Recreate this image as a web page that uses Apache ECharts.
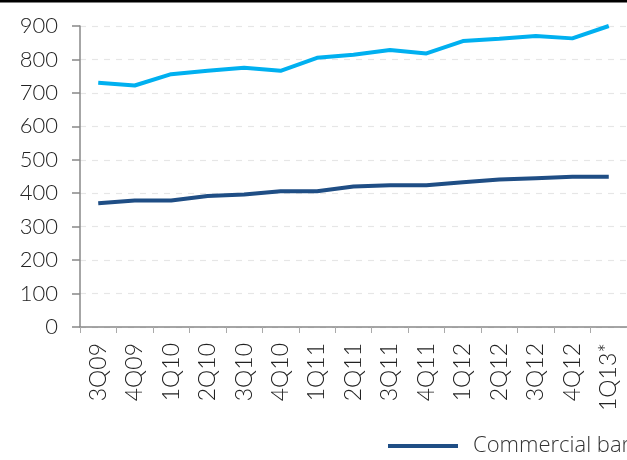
<!DOCTYPE html>
<html><head><meta charset="utf-8">
<script src="https://cdn.jsdelivr.net/npm/echarts@6/dist/echarts.min.js"></script>
<style>html,body{margin:0;padding:0;background:#fff}#c{width:627px;height:460px}</style>
</head><body><div id="c"></div>
<script>
var categories = ['3Q09','4Q09','1Q10','2Q10','3Q10','4Q10','1Q11','2Q11','3Q11','4Q11','1Q12','2Q12','3Q12','4Q12','1Q13*'];
var commercialBanks = [370,378,378,392,396,406,406,420,424,424,433,441,445,449,449];
var totalBanks = [730,722,756,766,775,766,805,814,828,818,855,862,870,863,900];
var yTicks = [0,100,200,300,400,500,600,700,800,900];

var chart = echarts.init(document.getElementById('c'), null, {renderer:'canvas'});
chart.setOption({
  animation:false,
  backgroundColor:'#fff',
  graphic:[{type:'rect', shape:{x:0,y:0,width:627,height:2.5}, style:{fill:'#000'}}],
  grid:{left:80, top:26, right:-1, bottom:133, containLabel:false},
  legend:{
    left:383, top:430, width:2000, itemWidth:70, itemHeight:4, itemGap:40,
    icon:'rect',
    textStyle:{fontFamily:'Open Sans', fontWeight:300, fontSize:22, color:'#333', padding:[0,0,0,10]},
    data:['Commercial banks','Total banking system']
  },
  xAxis:{
    type:'category', data:categories, boundaryGap:true,
    axisLine:{lineStyle:{color:'#888', width:1.5}},
    axisTick:{show:true, length:6, alignWithLabel:false, lineStyle:{color:'#aaa', width:1}},
    axisLabel:{rotate:90, fontFamily:'Lato', fontWeight:300, fontSize:23, color:'#222', margin:16, interval:0}
  },
  yAxis:{
    type:'value', min:0, max:900, interval:100,
    axisLine:{show:true, lineStyle:{color:'#888', width:1.5}},
    axisTick:{show:true, length:8, lineStyle:{color:'#888', width:1.5}},
    axisLabel:{fontFamily:'Lato', fontWeight:300, fontSize:22, color:'#222', margin:22,
      formatter:function(v){return yTicks.indexOf(v)>=0? String(v):'';}},
    splitLine:{show:true, lineStyle:{color:'#e6e6e6', type:[6,6], width:1.2}}
  },
  series:[
    {name:'Commercial banks', type:'line', data:commercialBanks, symbol:'none',
     lineStyle:{color:'#1F4E85', width:4}, itemStyle:{color:'#1F4E85'}},
    {name:'Total banking system', type:'line', data:totalBanks, symbol:'none',
     lineStyle:{color:'#00B0F0', width:4}, itemStyle:{color:'#00B0F0'}}
  ]
});
</script></body></html>
